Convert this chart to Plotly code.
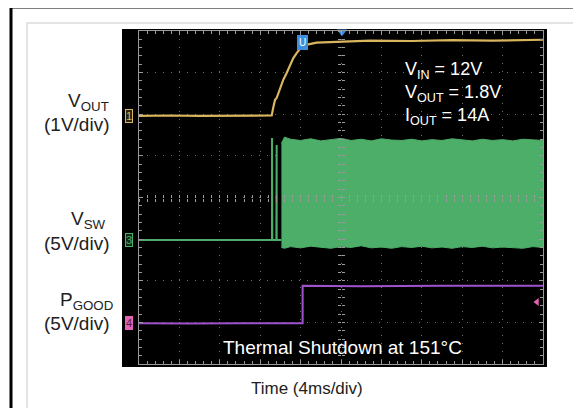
import plotly.graph_objects as go

# 时间轴: ms (4ms/div), 纵轴: 屏幕格数 (0~8)
vout_t = [0, 3, 6, 9, 12, 13.14, 13.30, 13.47, 13.63, 13.96, 14.29, 14.62, 14.95, 15.28,
          15.61, 15.94, 16.27, 16.76, 17.59, 20.1, 22.9, 27, 31, 35, 40]
vout_v = [5.96, 5.97, 5.96, 5.97, 5.97, 5.97, 6.17, 6.35, 6.39, 6.63, 6.83, 6.99, 7.19, 7.35,
          7.47, 7.57, 7.63, 7.68, 7.72, 7.75, 7.77, 7.76, 7.78, 7.77, 7.79]

vsw_t = [0, 6, 13.1, 13.17, 13.17, 13.2, 13.6, 13.63, 13.63, 13.7, 14.1]
vsw_v = [2.98, 2.98, 2.98, 2.98, 5.43, 2.98, 2.98, 5.26, 2.98, 2.98, 2.98]

sw_t = [14.1, 14.4, 15, 16, 17, 18, 19, 20, 21, 22, 23, 24, 25, 26, 27, 28, 29, 30,
        31, 32, 33, 34, 35, 36, 37, 38, 39, 40]
sw_top = [5.30, 5.45, 5.40, 5.37, 5.41, 5.36, 5.39, 5.42, 5.37, 5.40, 5.36, 5.41, 5.38, 5.37,
          5.40, 5.36, 5.39, 5.37, 5.41, 5.38, 5.36, 5.40, 5.37, 5.39, 5.36, 5.40, 5.38, 5.37]
sw_bot = [2.80, 2.78, 2.82, 2.79, 2.83, 2.80, 2.78, 2.82, 2.80, 2.84, 2.79, 2.81, 2.78, 2.82,
          2.80, 2.83, 2.79, 2.81, 2.78, 2.82, 2.80, 2.83, 2.79, 2.81, 2.80, 2.78, 2.82, 2.80]

pg_t = [0, 5, 10, 16.2, 16.2, 22, 30, 40]
pg_v = [0.98, 0.97, 0.98, 0.98, 1.88, 1.87, 1.88, 1.88]

YELLOW = "#d9b55e"
GREEN = "#4cae68"
PURPLE = "#a052cc"
PINK = "#e462b4"
BLUE = "#3d8ee0"
TICK = "#9a9a9a"
FONT = "Arial, Liberation Sans, sans-serif"

# 页面 body 有 8px 边距, 所以画布比窗口小 8px
OFF = 8
W, H = 581 - OFF, 408 - OFF
# 参考图像素 -> paper 坐标 (绘图区 x:139~543, y:31~364)
L, R, T, B = 139, 543, 31, 364


def px(x):
    return (x - L) / (R - L)


def py(y):
    return (B - y) / (B - T)


fig = go.Figure()

fig.add_trace(go.Scatter(x=vout_t, y=vout_v, mode="lines",
                         line=dict(color=YELLOW, width=2.2)))
fig.add_trace(go.Scatter(x=vsw_t, y=vsw_v, mode="lines",
                         line=dict(color=GREEN, width=2)))
fig.add_trace(go.Scatter(x=sw_t + sw_t[::-1], y=sw_top + sw_bot[::-1], mode="lines",
                         fill="toself", fillcolor=GREEN, line=dict(color=GREEN, width=1)))
fig.add_trace(go.Scatter(x=pg_t, y=pg_v, mode="lines",
                         line=dict(color=PURPLE, width=2)))
# 触发标记
fig.add_trace(go.Scatter(x=[20.1], y=[7.98], mode="markers", cliponaxis=False,
                         marker=dict(symbol="triangle-down", size=9, color=BLUE)))
fig.add_trace(go.Scatter(x=[39.4], y=[1.49], mode="markers", cliponaxis=False,
                         marker=dict(symbol="triangle-left", size=7, color=PINK)))

grid = dict(showgrid=True, gridcolor="#6e6e6e", griddash="1px,7px", gridwidth=1,
            zeroline=False, showline=True, linecolor=TICK, linewidth=1,
            mirror="ticks", ticks="inside", ticklen=4, tickcolor=TICK,
            showticklabels=False, fixedrange=True)

fig.update_xaxes(range=[0, 40], dtick=4,
                 minor=dict(dtick=0.8, ticks="inside", ticklen=3, tickcolor=TICK), **grid)
fig.update_yaxes(range=[0, 8], dtick=1,
                 minor=dict(dtick=0.2, ticks="inside", ticklen=3, tickcolor=TICK), **grid)

# 中心十字刻度
center = dict(anchor="free", position=0.5, ticklen=3, tickcolor=TICK, showline=False,
              showgrid=False, showticklabels=False, zeroline=False, fixedrange=True)
fig.update_layout(
    xaxis2=dict(overlaying="x", range=[0, 40], dtick=0.8, ticks="inside", **center),
    xaxis3=dict(overlaying="x", range=[0, 40], dtick=0.8, ticks="outside", **center),
    yaxis2=dict(overlaying="y", range=[0, 8], dtick=0.2, ticks="inside", **center),
    yaxis3=dict(overlaying="y", range=[0, 8], dtick=0.2, ticks="outside", **center),
)
fig.add_trace(go.Scatter(x=[None], y=[None], xaxis="x2", yaxis="y2", showlegend=False))
fig.add_trace(go.Scatter(x=[None], y=[None], xaxis="x3", yaxis="y3", showlegend=False))

# 外框和屏幕
fig.add_shape(type="rect", xref="paper", yref="paper", layer="below",
              x0=px(122), x1=px(547), y0=py(367), y1=py(29),
              fillcolor="black", line=dict(width=0))
fig.add_shape(type="path", xref="paper", yref="paper",
              path=f"M {px(27)} {py(420)} L {px(27)} {py(23)} L {px(600)} {py(23)}",
              line=dict(color="#dcdcdc", width=1.5))
fig.add_shape(type="path", xref="paper", yref="paper",
              path=f"M {px(11)} {py(420)} L {px(11)} {py(7)} L {px(600)} {py(7)}",
              line=dict(color="black", width=3))

anns = []


def text(x, y, s, size=18, color="#222", xanchor="center", **kw):
    anns.append(dict(x=px(x), y=py(y), xref="paper", yref="paper", text=s, showarrow=False,
                     xanchor=xanchor, yanchor="middle",
                     font=dict(family=FONT, size=size, color=color), **kw))


# 左侧通道说明
text(88, 102, "V<sub>OUT</sub>", size=19)
text(76, 124, "(1V/div)", size=19)
text(88, 220, "V<sub>SW</sub>", size=19)
text(76, 243, "(5V/div)", size=19)
text(86, 301, "P<sub>GOOD</sub>", size=19)
text(76, 323, "(5V/div)", size=19)
text(307, 388, "Time (4ms/div)", size=17)

# 屏幕内文字
text(403, 70, "V<sub>IN</sub> = 12V", color="white", xanchor="left")
text(403, 93, "V<sub>OUT</sub> = 1.8V", color="white", xanchor="left")
text(403, 116, "I<sub>OUT</sub> = 14A", color="white", xanchor="left")
text(342, 347, "Thermal Shutdown at 151°C", size=19, color="white")

# 通道标记
text(129, 116, "1", size=11, color=YELLOW, bgcolor="#2a2410", bordercolor=YELLOW, borderpad=0)
text(129, 240, "3", size=11, color=GREEN, bgcolor="#0f2a15", bordercolor=GREEN, borderpad=0)
text(129, 323, "4", size=11, color="#5a1a40", bgcolor=PINK, bordercolor=PINK, borderpad=0)
text(302, 43, "U", size=10, color="white", bgcolor=BLUE, bordercolor=BLUE, borderpad=1)

fig.update_layout(
    width=W, height=H,
    margin=dict(l=L - OFF, r=W - (R - OFF), t=T - OFF, b=H - (B - OFF)),
    paper_bgcolor="white", plot_bgcolor="black",
    showlegend=False, annotations=anns,
)

fig.write_html("out.html")
